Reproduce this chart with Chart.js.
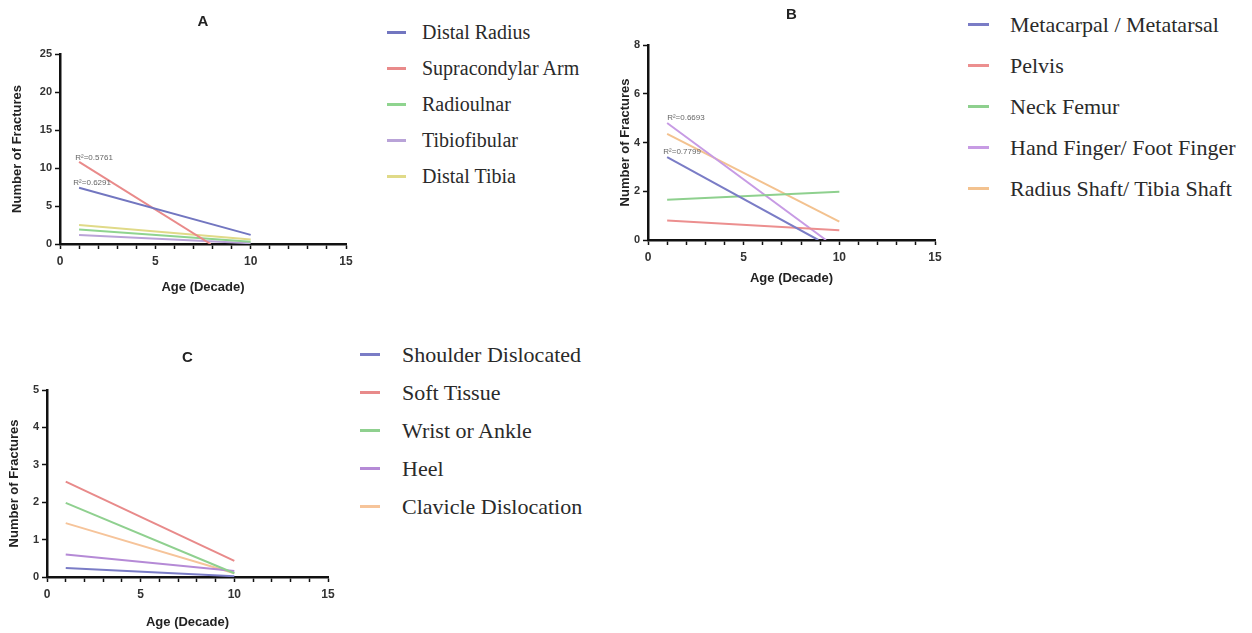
<!DOCTYPE html>
<html>
<head>
<meta charset="utf-8">
<script src="https://cdn.jsdelivr.net/npm/chart.js@4/dist/chart.umd.min.js"></script>
<style>
  body { margin: 0; background: #fff; width: 1252px; height: 633px; position: relative; overflow: hidden; }
  canvas { position: absolute; }
  .leg { position: absolute; font-family: "Liberation Serif", "Times New Roman", serif; font-size: 22px; color: #2a2a2a; white-space: nowrap; }
  .leg i { position: absolute; height: 3px; top: 50%; margin-top: -2px; }
</style>
</head>
<body>
<canvas id="chart-a" width="372" height="300" style="left:0;top:0"></canvas>
<canvas id="chart-b" width="360" height="300" style="left:600px;top:0"></canvas>
<canvas id="chart-c" width="350" height="313" style="left:0;top:320px"></canvas>
<div id="legends"></div>
<script>
// panel A
const seriesA = ["Distal Radius", "Supracondylar Arm", "Radioulnar", "Tibiofibular", "Distal Tibia"];
const colorsA = ["#7276c0", "#e98a8a", "#8fd48f", "#b9a3d8", "#e0da88"];
const xFromA = [1, 1, 1, 1, 1];
const xToA = [10, 7.9, 10, 10, 10];
const yFromA = [7.4, 10.8, 1.9, 1.2, 2.5];
const yToA = [1.2, 0, 0.3, 0.1, 0.6];
const r2TextA = ["R\u00b2=0.5761", "R\u00b2=0.6291"];
const r2XA = [0.8, 0.7];
const r2YA = [11.4, 8.0];

// panel B
const seriesB = ["Metacarpal / Metatarsal", "Pelvis", "Neck Femur", "Hand Finger/ Foot Finger", "Radius Shaft/ Tibia Shaft"];
const colorsB = ["#7a7cc6", "#ec8f8f", "#8ed08e", "#c79be4", "#f3c28f"];
const xFromB = [1, 1, 1, 1, 1];
const xToB = [8.9, 10, 10, 9.3, 10];
const yFromB = [3.4, 0.8, 1.65, 4.8, 4.35];
const yToB = [0, 0.4, 1.98, 0, 0.75];
const r2TextB = ["R\u00b2=0.6693", "R\u00b2=0.7799"];
const r2XB = [1.0, 0.8];
const r2YB = [5.0, 3.6];

// panel C
const seriesC = ["Shoulder Dislocated", "Soft Tissue", "Wrist or Ankle", "Heel", "Clavicle Dislocation"];
const colorsC = ["#7a7cc6", "#e88a8a", "#8fd08f", "#b58ad6", "#f6c49a"];
const xFromC = [1, 1, 1, 1, 1];
const xToC = [10, 10, 10, 10, 10];
const yFromC = [0.24, 2.55, 1.98, 0.6, 1.44];
const yToC = [0.02, 0.43, 0.1, 0.16, 0.1];

const ageTicks = [0, 5, 10, 15];

const r2Plugin = {
  id: "r2Labels",
  afterDatasetsDraw(chart, args, opts) {
    if (!opts.text) return;
    const { ctx, scales } = chart;
    ctx.save();
    ctx.font = "8px Arial";
    ctx.fillStyle = "#666";
    ctx.textBaseline = "middle";
    opts.text.forEach((t, i) => {
      ctx.fillText(t, scales.x.getPixelForValue(opts.xs[i]), scales.y.getPixelForValue(opts.ys[i]));
    });
    ctx.restore();
  },
};

function makePanel(id, cfg) {
  const datasets = cfg.series.map((name, i) => ({
    label: name,
    data: [{ x: cfg.x0[i], y: cfg.y0[i] }, { x: cfg.x1[i], y: cfg.y1[i] }],
    borderColor: cfg.colors[i],
    borderWidth: 2,
    pointRadius: 0,
  }));
  return new Chart(document.getElementById(id), {
    type: "line",
    data: { datasets },
    plugins: [r2Plugin],
    options: {
      responsive: false,
      animation: false,
      devicePixelRatio: 1,
      layout: { padding: { left: 0, top: cfg.padTop, right: cfg.padRight, bottom: 0 } },
      plugins: {
        legend: { display: false },
        tooltip: { enabled: false },
        title: {
          display: true,
          text: cfg.title,
          fullSize: false,
          color: "#222",
          font: { family: "Arial", size: 15, weight: "bold" },
          padding: { top: 0, bottom: cfg.titleGap },
        },
        r2Labels: { text: cfg.r2Text, xs: cfg.r2X, ys: cfg.r2Y },
      },
      scales: {
        x: {
          type: "linear",
          min: 0,
          max: 15,
          afterFit: (s) => { s.height = cfg.xHeight; },
          afterBuildTicks: (s) => { s.ticks = Array.from({ length: 16 }, (_, v) => ({ value: v })); },
          ticks: {
            autoSkip: false,
            maxRotation: 0,
            padding: 5,
            color: "#333",
            font: { family: "Arial", size: 12, weight: "bold" },
            callback: (v) => (ageTicks.includes(v) ? String(v) : ""),
          },
          grid: { drawOnChartArea: false, tickLength: 5, tickColor: "#111", tickWidth: 1.5 },
          border: { color: "#111", width: 2.5 },
          title: {
            display: true,
            text: "Age (Decade)",
            color: "#222",
            font: { family: "Arial", size: 13, weight: "bold" },
            padding: { top: 0, bottom: cfg.xTitleGap },
          },
        },
        y: {
          min: 0,
          max: cfg.yMax,
          afterFit: (s) => { s.width = cfg.yWidth; },
          ticks: {
            stepSize: cfg.yStep,
            padding: 3,
            color: "#333",
            font: { family: "Arial", size: 11, weight: "bold" },
          },
          grid: { drawOnChartArea: false, tickLength: 5, tickColor: "#111", tickWidth: 1.5 },
          border: { color: "#111", width: 2.5 },
          title: {
            display: true,
            text: "Number of Fractures",
            color: "#222",
            font: { family: "Arial", size: 13, weight: "bold" },
            padding: { top: cfg.yTitleGap, bottom: 0 },
          },
        },
      },
    },
  });
}

makePanel("chart-a", {
  title: "A", series: seriesA, colors: colorsA, x0: xFromA, x1: xToA, y0: yFromA, y1: yToA,
  r2Text: r2TextA, r2X: r2XA, r2Y: r2YA,
  yMax: 25, yStep: 5, padTop: 13, titleGap: 23, padRight: 26, xHeight: 56, xTitleGap: 5,
  yWidth: 60, yTitleGap: 10,
});
makePanel("chart-b", {
  title: "B", series: seriesB, colors: colorsB, x0: xFromB, x1: xToB, y0: yFromB, y1: yToB,
  r2Text: r2TextB, r2X: r2XB, r2Y: r2YB,
  yMax: 8, yStep: 2, padTop: 6, titleGap: 21, padRight: 25, xHeight: 60, xTitleGap: 14,
  yWidth: 48, yTitleGap: 18,
});
makePanel("chart-c", {
  title: "C", series: seriesC, colors: colorsC, x0: xFromC, x1: xToC, y0: yFromC, y1: yToC,
  r2Text: null, r2X: [], r2Y: [],
  yMax: 5, yStep: 1, padTop: 29, titleGap: 23, padRight: 22, xHeight: 56, xTitleGap: 3,
  yWidth: 47, yTitleGap: 7,
});

// HTML legends built from the series arrays
function addLegend(names, colors, left, top, gap, markW, textGap, size) {
  const box = document.getElementById("legends");
  names.forEach((name, i) => {
    const d = document.createElement("div");
    d.className = "leg";
    d.style.fontSize = size + "px";
    d.style.left = left + markW + textGap + "px";
    d.style.top = top + i * gap - 13 + "px";
    d.textContent = name;
    const m = document.createElement("i");
    m.style.left = -(markW + textGap) + "px";
    m.style.width = markW + "px";
    m.style.background = colors[i];
    d.appendChild(m);
    box.appendChild(d);
  });
}
addLegend(seriesA, colorsA, 387, 34, 36, 19, 16, 20);
addLegend(seriesB, colorsB, 968, 25, 41, 21, 21, 22);
addLegend(seriesC, colorsC, 360, 355, 38, 20, 22, 22);
</script>
</body>
</html>
